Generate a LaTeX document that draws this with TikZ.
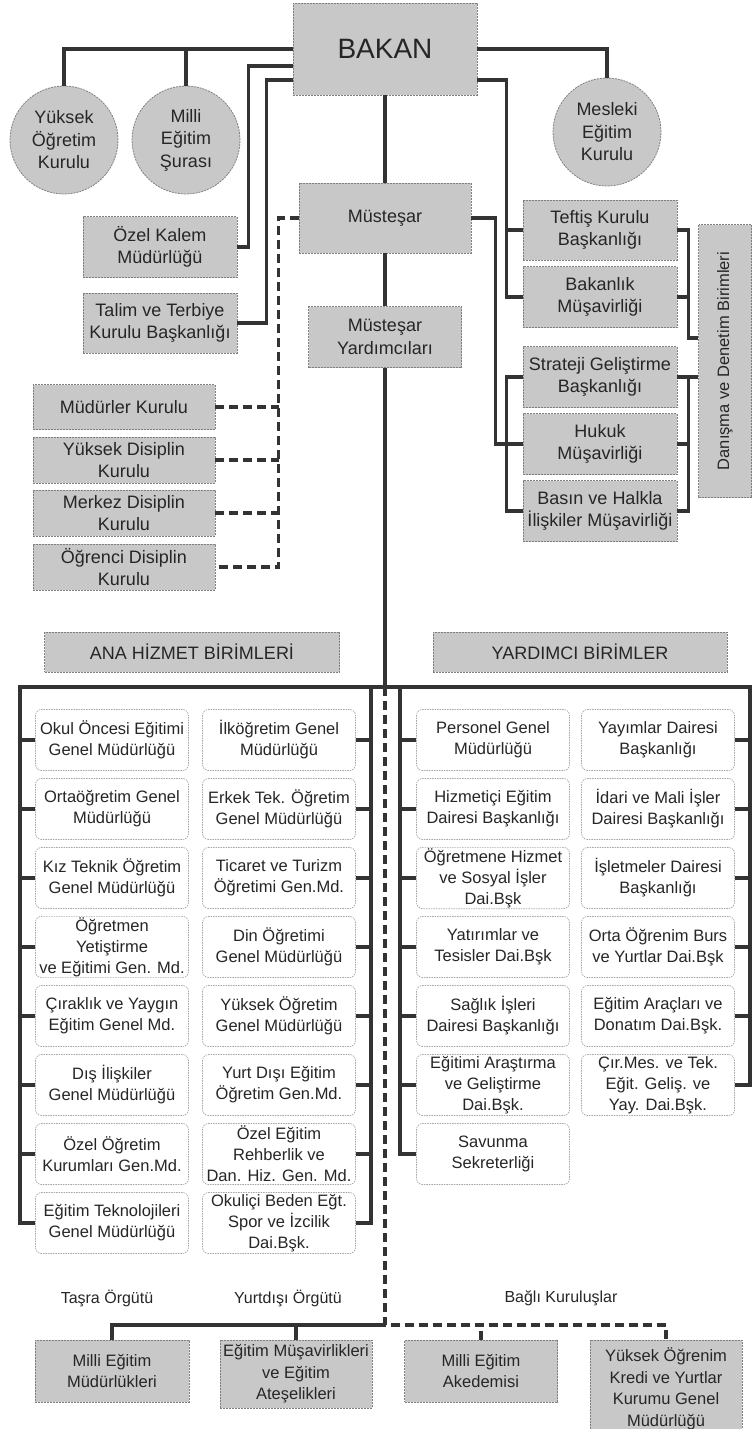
\documentclass[tikz,border=0pt]{standalone}
\usepackage{fontspec}
\setmainfont{Liberation Sans}
\usetikzlibrary{calc}
\definecolor{boxgray}{RGB}{200,200,200}
\begin{document}
\begin{tikzpicture}[x=1pt, y=-1pt,
  every node/.style={text=black!85},
  graybox/.style={draw=black!50, dash pattern=on 2pt off 1pt, line width=0.8pt, fill=boxgray, align=center, inner sep=1pt, minimum width=154pt, minimum height=61pt, font=\fontsize{18}{22.5}\selectfont},
  council/.style={circle, draw=black!50, dash pattern=on 2pt off 1pt, line width=0.8pt, fill=boxgray, align=center, inner sep=0pt, minimum size=108pt, font=\fontsize{18}{22.5}\selectfont},
  unitbox/.style={draw=black!35, dash pattern=on 1.5pt off 1pt, line width=0.7pt, rounded corners=6pt, fill=white, align=center, inner sep=1pt, minimum width=153pt, minimum height=61pt, font=\fontsize{16.5}{21}\selectfont},
  lowbox/.style={graybox, font=\fontsize{16.5}{21.5}\selectfont},
  caption/.style={font=\fontsize{16}{20}\selectfont},
  conn/.style={draw=black!80, line width=3.3pt},
  dline/.style={conn, dash pattern=on 9pt off 5pt}]
  \useasboundingbox (0,0) rectangle (755,1429);
  \node[graybox, minimum width=184pt, minimum height=92pt, font=\fontsize{28}{34}\selectfont] (bakan) at (385,49) {BAKAN};
  \node[council] (yok) at (64,140) {Yüksek\\Öğretim\\Kurulu};
  \node[council] (mes) at (186,140) {Milli\\Eğitim\\Şurası};
  \node[council] (mek) at (607,132) {Mesleki\\Eğitim\\Kurulu};
  \node[graybox] (ozel) at (160,247) {Özel Kalem\\Müdürlüğü};
  \node[graybox, minimum height=60pt] (talim) at (160,323) {Talim ve Terbiye\\Kurulu Başkanlığı};
  \node[graybox, minimum width=172pt, minimum height=70pt] (mustesar) at (385,218) {Müsteşar};
  \node[graybox, minimum width=153pt] (myard) at (385,337) {Müsteşar\\Yardımcıları};
  \node[graybox, minimum height=60pt] (teftis) at (600,230) {Teftiş Kurulu\\Başkanlığı};
  \node[graybox] (bakanlik) at (600,297) {Bakanlık\\Müşavirliği};
  \node[graybox] (strateji) at (600,377) {Strateji Geliştirme\\Başkanlığı};
  \node[graybox] (hukuk) at (600,444) {Hukuk\\Müşavirliği};
  \node[graybox] (basin) at (600,511) {Basın ve Halkla\\İlişkiler Müşavirliği};
  \node[graybox, rotate=90, minimum width=273pt, minimum height=53pt, font=\fontsize{16.5}{20}\selectfont] (danisma) at (725,361) {Danışma ve Denetim Birimleri};
  \node[graybox, minimum width=182pt, minimum height=45pt] (mudurler) at (124,407) {Müdürler Kurulu};
  \node[graybox, minimum width=182pt, minimum height=46pt, font=\fontsize{18}{21.5}\selectfont] (ydisiplin) at (124,460) {Yüksek Disiplin\\Kurulu};
  \node[graybox, minimum width=182pt, minimum height=46pt, font=\fontsize{18}{21.5}\selectfont] (mdisiplin) at (124,513) {Merkez Disiplin\\Kurulu};
  \node[graybox, minimum width=182pt, minimum height=46pt, font=\fontsize{18}{21.5}\selectfont] (odisiplin) at (124,567) {Öğrenci Disiplin\\Kurulu};
  \node[graybox, minimum width=295pt, minimum height=40pt] (ana) at (192,652) {ANA HİZMET BİRİMLERİ};
  \node[graybox, minimum width=294pt, minimum height=40pt] (yardimci) at (580,652) {YARDIMCI BİRİMLER};
  \node[unitbox] (a1) at (112,740) {Okul Öncesi Eğitimi\\Genel Müdürlüğü};
  \node[unitbox] (a2) at (112,809) {Ortaöğretim Genel\\Müdürlüğü};
  \node[unitbox] (a3) at (112,878) {Kız Teknik Öğretim\\Genel Müdürlüğü};
  \node[unitbox] (a4) at (112,947) {Öğretmen\\Yetiştirme\\ve Eğitimi Gen. Md.};
  \node[unitbox] (a5) at (112,1016) {Çıraklık ve Yaygın\\Eğitim Genel Md.};
  \node[unitbox] (a6) at (112,1085) {Dış İlişkiler\\Genel Müdürlüğü};
  \node[unitbox] (a7) at (112,1154) {Özel Öğretim\\Kurumları Gen.Md.};
  \node[unitbox] (a8) at (112,1223) {Eğitim Teknolojileri\\Genel Müdürlüğü};
  \node[unitbox] (b1) at (279,740) {İlköğretim Genel\\Müdürlüğü};
  \node[unitbox] (b2) at (279,809) {Erkek Tek. Öğretim\\Genel Müdürlüğü};
  \node[unitbox] (b3) at (279,878) {Ticaret ve Turizm\\Öğretimi Gen.Md.};
  \node[unitbox] (b4) at (279,947) {Din Öğretimi\\Genel Müdürlüğü};
  \node[unitbox] (b5) at (279,1016) {Yüksek Öğretim\\Genel Müdürlüğü};
  \node[unitbox] (b6) at (279,1085) {Yurt Dışı Eğitim\\Öğretim Gen.Md.};
  \node[unitbox] (b7) at (279,1154) {Özel Eğitim\\Rehberlik ve\\Dan. Hiz. Gen. Md.};
  \node[unitbox] (b8) at (279,1223) {Okuliçi Beden Eğt.\\Spor ve İzcilik\\Dai.Bşk.};
  \node[unitbox] (c1) at (493,740) {Personel Genel\\Müdürlüğü};
  \node[unitbox] (c2) at (493,809) {Hizmetiçi Eğitim\\Dairesi Başkanlığı};
  \node[unitbox] (c3) at (493,878) {Öğretmene Hizmet\\ve Sosyal İşler\\Dai.Bşk};
  \node[unitbox] (c4) at (493,947) {Yatırımlar ve\\Tesisler Dai.Bşk};
  \node[unitbox] (c5) at (493,1016) {Sağlık İşleri\\Dairesi Başkanlığı};
  \node[unitbox] (c6) at (493,1085) {Eğitimi Araştırma\\ve Geliştirme\\Dai.Bşk.};
  \node[unitbox] (c7) at (493,1154) {Savunma\\Sekreterliği};
  \node[unitbox] (d1) at (658,740) {Yayımlar Dairesi\\Başkanlığı};
  \node[unitbox] (d2) at (658,809) {İdari ve Mali İşler\\Dairesi Başkanlığı};
  \node[unitbox] (d3) at (658,878) {İşletmeler Dairesi\\Başkanlığı};
  \node[unitbox] (d4) at (658,947) {Orta Öğrenim Burs\\ve Yurtlar Dai.Bşk};
  \node[unitbox] (d5) at (658,1016) {Eğitim Araçları ve\\Donatım Dai.Bşk.};
  \node[unitbox] (d6) at (658,1085) {Çır.Mes. ve Tek.\\Eğit. Geliş. ve\\Yay. Dai.Bşk.};
  \node[caption] (tasra) at (107,1298) {Taşra Örgütü};
  \node[caption] (yurtdisi) at (288,1298) {Yurtdışı Örgütü};
  \node[caption] (bagli) at (561,1298) {Bağlı Kuruluşlar};
  \node[lowbox, minimum height=62pt] (mem) at (112,1371) {Milli Eğitim\\Müdürlükleri};
  \node[lowbox, minimum width=152pt, minimum height=68pt] (emv) at (296,1374) {Eğitim Müşavirlikleri\\ve Eğitim\\Ateşelikleri};
  \node[lowbox, minimum width=153pt, minimum height=62pt] (mea) at (481,1371) {Milli Eğitim\\Akedemisi};
  \node[lowbox, minimum width=152pt, minimum height=98pt] (yokk) at (666,1389) {Yüksek Öğrenim\\Kredi ve Yurtlar\\Kurumu Genel\\Müdürlüğü};
  \coordinate (hub) at (385,687);
  \coordinate (lt) at (20,687);
  \coordinate (lr) at (371,687);
  \coordinate (rl) at (400,687);
  \coordinate (rt) at (750,687);
  \coordinate (bj) at (385,1325);
  \draw[conn] (bakan.west) -| (yok.north);
  \draw[conn] (mes.north) -- (mes.north |- bakan.west);
  \draw[conn] ($(bakan.west)+(0,17)$) -| ($(ozel.east)+(11,0)$) -- (ozel.east);
  \draw[conn] ($(bakan.west)+(0,31)$) -| ($(talim.east)+(29,0)$) -- (talim.east);
  \draw[conn] (bakan.east) -| (mek.north);
  \draw[conn] ($(bakan.east)+(0,31)$) -| ($(bakanlik.west)+(-16,0)$) -- (bakanlik.west);
  \draw[conn] (teftis.west) -- ++(-16,0);
  \draw[conn] (bakan.south) -- (mustesar.north);
  \draw[conn] (mustesar.south) -- (myard.north);
  \draw[conn] (myard.south) -- (hub);
  \draw[conn] (mustesar.east) -- ++(24,0) |- (hukuk.west);
  \draw[conn] (strateji.west) -- ++(-16,0) |- (basin.west);
  \draw[conn] (teftis.east) -- ++(11,0) |- ($(danisma.north)+(0,-23)$);
  \draw[conn] (bakanlik.east) -- ++(11,0);
  \draw[conn] (strateji.east) -- (strateji.east -| danisma.north);
  \draw[conn] ($(strateji.east)+(11,0)$) |- (basin.east);
  \draw[conn] (hukuk.east) -- ++(11,0);
  \draw[dline] (mustesar.west) -- ++(-20,0) |- (odisiplin.east);
  \draw[dline] (mudurler.east) -- ++(64,0);
  \draw[dline] (ydisiplin.east) -- ++(64,0);
  \draw[dline] (mdisiplin.east) -- ++(64,0);
  \draw[conn] (a8.west) -| (lt) -- (rt) |- (d6.east);
  \draw[conn] (lr) |- (b8.east);
  \draw[conn] (rl) |- (c7.west);
  \draw[conn] (a1.west) -- (a1.west -| lt) (a2.west) -- (a2.west -| lt) (a3.west) -- (a3.west -| lt) (a4.west) -- (a4.west -| lt) (a5.west) -- (a5.west -| lt) (a6.west) -- (a6.west -| lt) (a7.west) -- (a7.west -| lt);
  \draw[conn] (b1.east) -- (b1.east -| lr) (b2.east) -- (b2.east -| lr) (b3.east) -- (b3.east -| lr) (b4.east) -- (b4.east -| lr) (b5.east) -- (b5.east -| lr) (b6.east) -- (b6.east -| lr) (b7.east) -- (b7.east -| lr);
  \draw[conn] (c1.west) -- (c1.west -| rl) (c2.west) -- (c2.west -| rl) (c3.west) -- (c3.west -| rl) (c4.west) -- (c4.west -| rl) (c5.west) -- (c5.west -| rl) (c6.west) -- (c6.west -| rl);
  \draw[conn] (d1.east) -- (d1.east -| rt) (d2.east) -- (d2.east -| rt) (d3.east) -- (d3.east -| rt) (d4.east) -- (d4.east -| rt) (d5.east) -- (d5.east -| rt);
  \draw[dline] (hub) -- (bj) -| (yokk.north);
  \draw[dline] (mea.north) -- (mea.north |- bj);
  \draw[conn] (bj) -| (mem.north);
  \draw[conn] (emv.north) -- (emv.north |- bj);
\end{tikzpicture}
\end{document}
